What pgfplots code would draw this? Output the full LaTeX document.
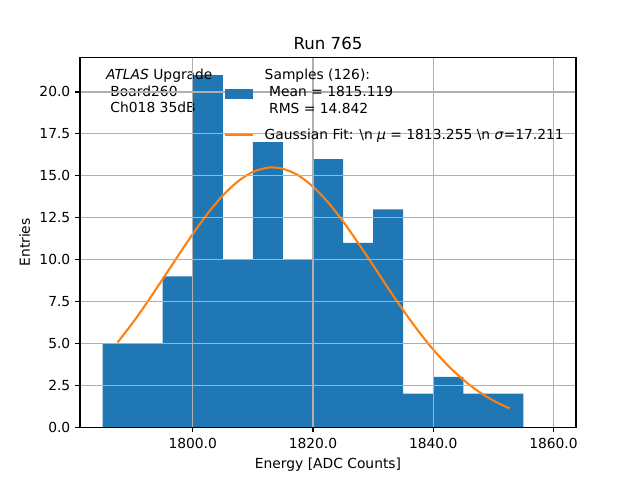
\documentclass[border=0pt]{standalone}
\usepackage{fontspec}
\setmainfont{DejaVu Sans}
\usepackage{pgfplots}
\pgfplotsset{compat=1.18}
\definecolor{mplblue}{HTML}{1F77B4}
\definecolor{mplorange}{HTML}{FF7F0E}
\definecolor{mplgrid}{HTML}{B0B0B0}
\newsavebox{\legA}
\begin{document}%
\sbox{\legA}{\fontsize{10}{12}\selectfont\begin{tabular}[c]{@{}l@{}}Samples (126):\\\hspace*{0.32em}Mean = 1815.119\\\hspace*{0.32em}RMS = 14.842\end{tabular}}%
\begin{tikzpicture}
\begin{axis}[
  at={(0,0)}, anchor=south west,
  scale only axis,
  width=4.96in, height=3.696in,
  xmin=1781.25, xmax=1863.75,
  ymin=0, ymax=22.05,
  axis on top,
  axis line style={line width=0.8pt, black},
  grid=major,
  major grid style={color=mplgrid, line width=0.8pt},
  xtick={1800,1820,1840,1860},
  ytick={0,2.5,5,7.5,10,12.5,15,17.5,20},
  xtick pos=left, ytick pos=left,
  tick align=outside,
  major tick length=3.5pt,
  every tick/.style={black, line width=0.8pt},
  /pgf/number format/assume math mode=true,
  /pgf/number format/.cd, fixed, fixed zerofill, precision=1, 1000 sep={},
  /pgfplots/.cd,
  tick label style={font=\fontsize{10}{12}\selectfont},
  xticklabel style={yshift=-1pt},
  label style={font=\fontsize{10}{12}\selectfont},
  xlabel={Energy [ADC Counts]},
  ylabel={Entries},
  title={Run 765},
  title style={font=\fontsize{12}{14.4}\selectfont, yshift=-4.2pt},
  legend style={draw=none, fill=none, at={(rel axis cs:0.29,0.975)}, anchor=north west,
    inner sep=0pt, outer sep=0pt, row sep=19.8pt,
    nodes={inner sep=1pt},
    /tikz/every odd column/.append style={column sep=0.24cm},
    font=\fontsize{10}{12}\selectfont},
  legend cell align=left,
]
\addplot[ybar interval, fill=mplblue, draw=none,
  legend image code/.code={\fill[mplblue] (0cm,-0.39cm) rectangle (0.711cm,-0.144cm);}]
  coordinates {
  (1785,5) (1790,5) (1795,9) (1800,21) (1805,10) (1810,17) (1815,10)
  (1820,16) (1825,11) (1830,13) (1835,2) (1840,3) (1845,2) (1850,2)
  (1855,0) (1860,0)
  };
\addlegendentry{\usebox{\legA}}
\addplot[color=mplorange, line width=1.5pt, smooth, no marks,
  legend image code/.code={\draw[mplorange, line width=1.5pt] (0cm,0cm) -- (0.711cm,0cm);}]
  coordinates {
  (1787.5,5.06) (1790,6.22) (1792.5,7.49) (1795,8.83) (1797.5,10.19)
  (1800,11.52) (1802.5,12.75) (1805,13.82) (1807.5,14.66) (1810,15.23)
  (1812.5,15.49) (1813.255,15.50) (1815,15.42) (1817.5,15.04) (1820,14.35)
  (1822.5,13.42) (1825,12.28) (1827.5,11.00) (1830,9.66) (1832.5,8.30)
  (1835,6.98) (1837.5,5.75) (1840,4.63) (1842.5,3.66) (1845,2.83)
  (1847.5,2.14) (1850,1.59) (1852.7,1.12)
  };
\addlegendentry{Gaussian Fit: \textbackslash n \textit{μ} = 1813.255 \textbackslash n \textit{σ}=17.211}
\node[anchor=north west, align=left, inner sep=0pt, font=\fontsize{10}{12}\selectfont]
  at (rel axis cs:0.052,0.97) {\textit{ATLAS} Upgrade\\\hspace*{0.32em}Board260\\\hspace*{0.32em}Ch018 35dB};
\end{axis}
\pgfresetboundingbox
\path[use as bounding box] (-0.8in,-0.528in) rectangle (5.6in,4.272in);
\end{tikzpicture}%
\end{document}
